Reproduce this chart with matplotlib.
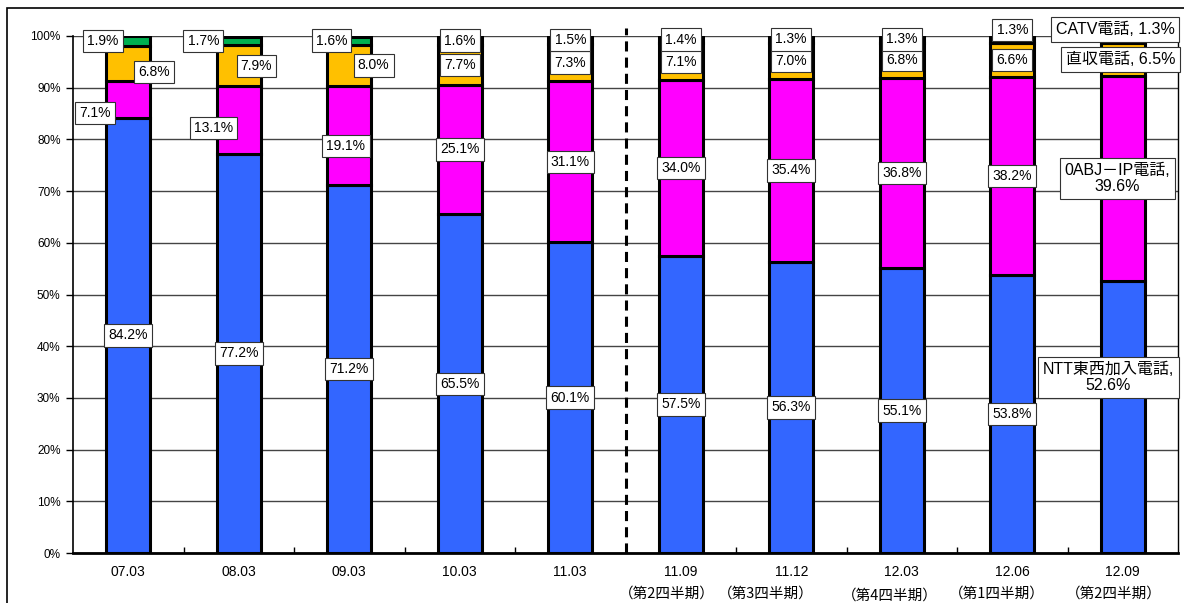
import matplotlib.pyplot as plt
from matplotlib.patches import Rectangle

plt.rcParams['font.family'] = ['Liberation Sans', 'Noto Sans CJK JP', 'DejaVu Sans']

periods = ['07.03', '08.03', '09.03', '10.03', '11.03',
           '11.09', '11.12', '12.03', '12.06', '12.09']
quarters = ['（第2四半期）', '（第3四半期）', '（第4四半期）', '（第1四半期）', '（第2四半期）']

series_names = ['NTT東西加入電話', '0ABJ－IP電話', '直収電話', 'CATV電話']
ntt = [84.2, 77.2, 71.2, 65.5, 60.1, 57.5, 56.3, 55.1, 53.8, 52.6]
ip_phone = [7.1, 13.1, 19.1, 25.1, 31.1, 34.0, 35.4, 36.8, 38.2, 39.6]
direct = [6.8, 7.9, 8.0, 7.7, 7.3, 7.1, 7.0, 6.8, 6.6, 6.5]
catv = [1.9, 1.7, 1.6, 1.6, 1.5, 1.4, 1.3, 1.3, 1.3, 1.3]

colors = ['#3366FF', '#FF00FF', '#FFC000', '#00B050']

# manual label nudges (series index, bar index) -> (dx, dy)
nudges = {
    (3, 0): (-0.23, 0), (2, 0): (0.23, -1.7), (1, 0): (-0.30, -2.6),
    (3, 1): (-0.32, 0), (2, 1): (0.16, 0), (1, 1): (-0.23, -1.5),
    (3, 2): (-0.16, 0), (2, 2): (0.22, 0), (1, 2): (-0.03, -2.0),
    (3, 8): (0, 1.9),
    (3, 9): (-0.07, 1.9), (2, 9): (-0.02, 0), (1, 9): (-0.05, 0), (0, 9): (-0.13, 7.7),
}


def plot_chart():
    fig = plt.figure(figsize=(11.84, 6.03), dpi=100)
    ax = fig.add_axes([73 / 1184, 1 - 553 / 603, 1105 / 1184, 517 / 603])

    x = range(len(periods))
    bottom = [0.0] * len(periods)
    data = [ntt, ip_phone, direct, catv]
    for s, vals in enumerate(data):
        ax.bar(x, vals, 0.4, bottom=bottom, color=colors[s],
               edgecolor='black', linewidth=2.2, zorder=3)
        for i, v in enumerate(vals):
            dx, dy = nudges.get((s, i), (0, 0))
            txt = '%.1f%%' % v
            size = 10
            if i == len(periods) - 1:
                size = 11.5
                if s in (0, 1):
                    txt = series_names[s] + ',\n' + txt
                else:
                    txt = series_names[s] + ', ' + txt
            ax.text(i + dx, bottom[i] + v / 2 + dy, txt, ha='center', va='center',
                    fontsize=size, zorder=5, clip_on=False, linespacing=1.1,
                    bbox=dict(boxstyle='square,pad=0.3', fc='white', ec='#333333', lw=0.8))
        bottom = [b + v for b, v in zip(bottom, vals)]

    ax.set_xlim(-0.5, len(periods) - 0.5)
    ax.set_ylim(0, 100)
    ax.set_yticks(range(0, 101, 10))
    ax.set_yticklabels(['%d%%' % t for t in range(0, 101, 10)], fontsize=8.5)
    ax.set_xticks(list(x))
    ax.set_xticklabels(periods, fontsize=10)
    ax.tick_params(axis='x', length=0, pad=9)
    ax.set_xticks([i + 0.5 for i in range(len(periods) - 1)], minor=True)
    ax.tick_params(axis='x', which='minor', direction='in', length=4, width=1)
    ax.tick_params(axis='y', direction='out', length=5, width=1, pad=4)
    ax.yaxis.grid(True, color='#444444', linewidth=1, zorder=0)
    ax.set_axisbelow(True)
    ax.spines['top'].set_visible(False)
    ax.spines['bottom'].set_linewidth(2)
    ax.spines['left'].set_linewidth(1.2)
    ax.spines['right'].set_linewidth(1)

    # divider between yearly and quarterly data
    ax.plot([4.5, 4.5], [0, 101.5], color='black', linestyle=(0, (3.3, 2)),
            linewidth=2.2, clip_on=False, zorder=4)

    q_shift = [-0.13, -0.23, -0.11, -0.14, -0.08]
    q_drop = [0, 0, 0.4, 0, 0]
    for k, q in enumerate(quarters):
        ax.text(5 + k + q_shift[k], -7.9 - q_drop[k], q, ha='center', va='center',
                fontsize=10.5, family=['Noto Sans CJK JP', 'DejaVu Sans'], clip_on=False)

    fig.patches.append(Rectangle((7 / 1184, -0.05), 1.2, 1 - 8 / 603 + 0.05,
                                 transform=fig.transFigure, fill=False,
                                 edgecolor='black', linewidth=1.2))
    fig.savefig('out.png', dpi=100)
    plt.close(fig)


if __name__ == '__main__':
    plot_chart()
